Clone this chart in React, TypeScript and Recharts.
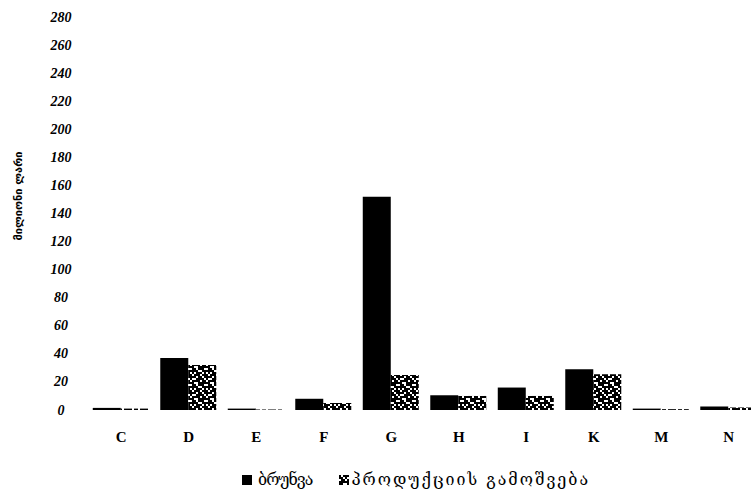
import React from 'react';
import { BarChart, Bar, XAxis, YAxis } from 'recharts';

const categories = ['C', 'D', 'E', 'F', 'G', 'H', 'I', 'K', 'M', 'N'];
const turnover = [1.5, 37, 1, 8, 152, 10.5, 16, 29, 1, 2.5];
const productOutput = [1, 32, 0.4, 5, 25, 10, 10, 25.5, 0.6, 1.8];
const yTicks = [0, 20, 40, 60, 80, 100, 120, 140, 160, 180, 200, 220, 240, 260, 280];
const seriesNames = ['ბრუნვა', 'პროდუქციის გამოშვება'];
const yTitle = 'მილიონი ლარი';

const data = categories.map((c, i) => ({ cat: c, turnover: turnover[i], output: productOutput[i] }));

const WHITE_DOTS =
  'M1 0h1v1h-1z M6 0h1v1h-1z M2 1h1v1h-1z M4 1h2v1h-2z M0 2h1v1h-1z M3 2h1v1h-1z M5 3h2v1h-2z M6 4h1v1h-1z M2 4h2v1h-2z M0 5h1v1h-1z M7 5h1v1h-1z M1 6h1v1h-1z M3 6h1v1h-1z M5 6h1v1h-1z M0 7h1v1h-1z M4 7h1v1h-1z';

const serif = '"Liberation Serif", "DejaVu Serif", serif';

const YTick = (props: any) => {
  const { y, payload } = props;
  return (
    <text x={53} y={y} textAnchor="middle" dominantBaseline="central" style={{ fontFamily: serif, fontStyle: 'italic', fontWeight: 'bold', fontSize: 14 }} fill="#000">
      {payload.value}
    </text>
  );
};

const XTick = (props: any) => {
  const { x, y, payload } = props;
  return (
    <text x={x} y={y + 19} textAnchor="middle" dominantBaseline="central" style={{ fontFamily: serif, fontWeight: 'bold', fontSize: 15 }} fill="#000">
      {payload.value}
    </text>
  );
};

const YTitle = () => {
  const cx = 10;
  const cy = 188;
  return (
    <text x={cx} y={cy} transform={`rotate(-90 ${cx} ${cy})`} textAnchor="middle" dominantBaseline="central" style={{ fontFamily: '"DejaVu Sans", sans-serif', fontWeight: 'bold', fontSize: 11 }} fill="#000">
      {yTitle}
    </text>
  );
};

const PatternDef = ({ id }: { id: string }) => (
  <pattern id={id} width="8" height="8" patternUnits="userSpaceOnUse" patternTransform="scale(2)">
    <rect x="0" y="0" width="8" height="8" fill="#000" />
    <path d={WHITE_DOTS} fill="#fff" />
  </pattern>
);

export default function App() {
  return (
    <div style={{ position: 'fixed', left: 0, top: 0, width: 751, height: 496, overflow: 'hidden', background: '#fff' }}>
      <div style={{ position: 'absolute', left: 8, top: 8, width: 790, height: 480 }}>
        <BarChart
          width={790}
          height={480}
          data={data}
          margin={{ top: 9, right: 35.5, left: 0, bottom: 48 }}
          barCategoryGap="7.8%"
          barGap={0}
        >
          <defs>
            <PatternDef id="dither" />
          </defs>
          <XAxis dataKey="cat" axisLine={false} tickLine={false} height={30} tick={<XTick />} interval={0} />
          <YAxis
            width={79.5}
            domain={[0, 280]}
            ticks={yTicks}
            axisLine={false}
            tickLine={false}
            tick={<YTick />}
            interval={0}
            label={<YTitle />}
          />
          <Bar dataKey="turnover" name={seriesNames[0]} fill="#000" isAnimationActive={false} />
          <Bar dataKey="output" name={seriesNames[1]} fill="url(#dither)" isAnimationActive={false} />
        </BarChart>
        <div
          style={{
            position: 'absolute',
            left: 234,
            top: 462,
            display: 'flex',
            alignItems: 'center',
            fontFamily: '"DejaVu Serif", "DejaVu Sans", serif',
            fontSize: 16,
            color: '#000',
            whiteSpace: 'nowrap',
          }}
        >
          <svg width={10} height={10} style={{ marginRight: 6 }}>
            <rect width={10} height={10} fill="#000" />
          </svg>
          <span style={{ marginRight: 27, letterSpacing: -1 }}>{seriesNames[0]}</span>
          <svg width={10} height={10} style={{ marginRight: 2 }}>
            <defs>
              <PatternDef id="dither2" />
            </defs>
            <rect width={10} height={10} fill="url(#dither2)" />
          </svg>
          <span style={{ letterSpacing: 2 }}>{seriesNames[1]}</span>
        </div>
      </div>
    </div>
  );
}
